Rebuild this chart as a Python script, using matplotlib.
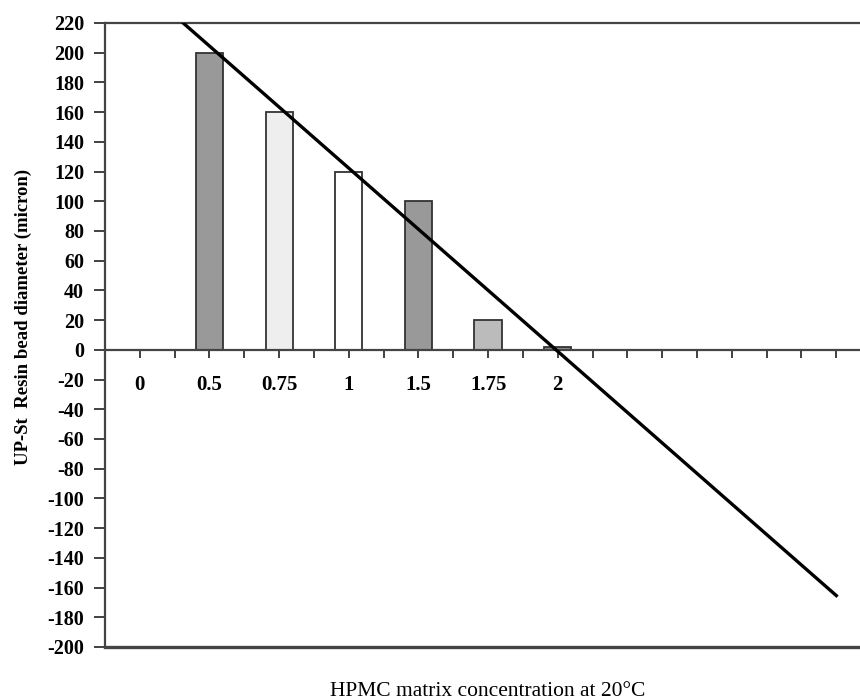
import matplotlib
matplotlib.use("Agg")
import matplotlib.pyplot as plt
import numpy as np

# HPMC concentration categories and measured bead diameters
categories = ["0", "0.5", "0.75", "1", "1.5", "1.75", "2"]
diameters = [0, 200, 160, 120, 100, 20, 2]
bar_colors = ["#ffffff", "#999999", "#eeeeee", "#ffffff", "#999999", "#bbbbbb", "#8c8c8c"]

# linear trend, drawn between its two end categories
trend_x = [0, 10]
trend_y = [245.6, -165.4]

plt.rcParams["font.family"] = ["Liberation Serif", "DejaVu Serif"]
plt.rcParams["axes.unicode_minus"] = False

fig = plt.figure(figsize=(8.6, 7.0), dpi=100)
ax = fig.add_axes([105 / 860, 1 - 647 / 700, 1 - 105 / 860, (647 - 23) / 700])

x = np.arange(len(categories))
for xi, v, c in zip(x, diameters, bar_colors):
    if v <= 0:
        continue
    ax.bar(xi, v, width=0.39, color=c, edgecolor="#333333", linewidth=1.3, zorder=2)

ax.plot(trend_x, trend_y, color="black", linewidth=2.4, zorder=3)

ax.set_xlim(-0.5, 10.34)
ax.set_ylim(-200, 220)
ax.set_yticks(np.arange(-200, 221, 20))
ax.tick_params(axis="y", direction="out", length=8, width=1.3, color="#333333", pad=7,
               labelsize=14.5)
for lab in ax.get_yticklabels():
    lab.set_fontweight("bold")

# category axis runs along zero, ticks at every half category
ax.spines["bottom"].set_position(("data", 0))
ax.spines["right"].set_visible(False)
for s in ["left", "bottom", "top"]:
    ax.spines[s].set_color("#444444")
    ax.spines[s].set_linewidth(1.6)
ax.set_xticks(np.arange(-0.5, 10.4, 0.5))
ax.set_xticklabels([])
ax.tick_params(axis="x", direction="out", length=6, width=1.3, color="#333333")
ax.axhline(-200, color="#444444", linewidth=2.4, clip_on=False, zorder=4)

for xi, lab in zip(x, categories):
    ax.text(xi, -23.5, lab, ha="center", va="center", fontsize=15, fontweight="bold")

fig.text(23 / 860, 1 - 317 / 700, "UP-St  Resin bead diameter (micron)", rotation=90,
         ha="center", va="center", fontsize=13.5, fontweight="bold")
fig.text(488 / 860, 1 - 691 / 700, "HPMC matrix concentration at 20\u00b0C",
         ha="center", va="center", fontsize=15.5)

fig.savefig("out.png", dpi=100)
